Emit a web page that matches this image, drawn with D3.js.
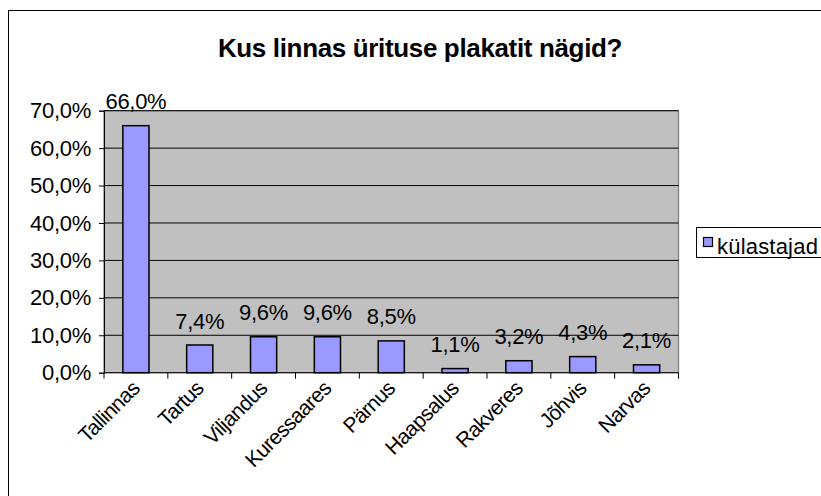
<!DOCTYPE html>
<html>
<head>
<meta charset="utf-8">
<script src="https://cdn.jsdelivr.net/npm/d3@7/dist/d3.min.js"></script>
<style>
html,body{margin:0;padding:0;background:#fff;}
svg{display:block;}
text{font-family:Arial,"Liberation Sans",sans-serif;}
</style>
</head>
<body>
<svg id="chart" width="821" height="496"></svg>
<script>
const categories = ["Tallinnas","Tartus","Viljandus","Kuressaares","Pärnus","Haapsalus","Rakveres","Jõhvis","Narvas"];
const values = [66.0, 7.4, 9.6, 9.6, 8.5, 1.1, 3.2, 4.3, 2.1];
const yTicks = [0,10,20,30,40,50,60,70];
const seriesName = "külastajad";
const title = "Kus linnas ürituse plakatit nägid?";

const svg = d3.select("#chart");
const fmt = v => v.toFixed(1).replace(".", ",") + "%";
const FF = "Arial, 'Liberation Sans', sans-serif";

// outer chart border
svg.append("rect").attr("x",8.5).attr("y",10.5).attr("width",840).attr("height",500)
  .attr("fill","#fff").attr("stroke","#000").attr("stroke-width",1);

const plot = {left:104, top:110.7, right:678.5, bottom:372.7};

const x = d3.scaleBand().domain(categories).range([plot.left, plot.right]).paddingInner(0.59).paddingOuter(0.295);
const xStep = d3.scaleBand().domain(categories).range([plot.left, plot.right]);
const y = d3.scaleLinear().domain([0,70]).range([plot.bottom, plot.top]);

// plot area
svg.append("rect").attr("x",plot.left).attr("y",plot.top)
  .attr("width",plot.right-plot.left).attr("height",plot.bottom-plot.top)
  .attr("fill","#C0C0C0").attr("stroke","#808080").attr("stroke-width",1.3);

// gridlines
svg.append("g").selectAll("line").data(yTicks.filter(t=>t>0)).join("line")
  .attr("x1",plot.left).attr("x2",plot.right)
  .attr("y1",d=>y(d)).attr("y2",d=>y(d))
  .attr("stroke","#000").attr("stroke-width",1);

// y axis
const yAxis = svg.append("g").attr("transform",`translate(${plot.left},0)`)
  .call(d3.axisLeft(y).tickValues(yTicks).tickFormat(fmt).tickSize(5).tickPadding(8));
yAxis.attr("font-size",null).attr("font-family",null);
yAxis.select(".domain").attr("stroke","#000");
yAxis.selectAll("line").attr("stroke","#000");
yAxis.selectAll("text").style("font-size","22px").attr("fill","#000").style("font-family",FF).attr("letter-spacing","-0.3");

// bars
svg.append("g").selectAll("rect").data(values).join("rect")
  .attr("x",(d,i)=>x(categories[i]))
  .attr("y",d=>y(d))
  .attr("width",x.bandwidth())
  .attr("height",d=>plot.bottom-y(d))
  .attr("fill","#9999FF").attr("stroke","#000").attr("stroke-width",1.5);

// x axis
const xAxisG = svg.append("g").attr("transform",`translate(0,${plot.bottom})`);
xAxisG.append("line").attr("x1",plot.left).attr("x2",plot.right).attr("y1",0).attr("y2",0).attr("stroke","#000");
const edges = categories.map(c=>xStep(c)).concat([plot.right]);
xAxisG.selectAll("line.tk").data(edges).join("line").attr("class","tk")
  .attr("x1",d=>d).attr("x2",d=>d).attr("y1",0).attr("y2",6).attr("stroke","#000");
xAxisG.selectAll("text").data(categories).join("text")
  .attr("transform",c=>`translate(${x(c)+x.bandwidth()/2+5},17) rotate(-45)`)
  .attr("text-anchor","end").style("font-size","21px").attr("letter-spacing","-0.6")
  .attr("fill","#000").text(c=>c);

// data labels
svg.append("g").selectAll("text").data(values).join("text")
  .attr("x",(d,i)=>x(categories[i])+x.bandwidth()/2)
  .attr("y",d=>y(d)-16.5)
  .attr("text-anchor","middle").style("font-size","22px").attr("letter-spacing","-0.3")
  .attr("fill","#000").text(d=>fmt(d));

// title
svg.append("text").attr("x",420).attr("y",57).attr("text-anchor","middle")
  .style("font-size","26px").attr("font-weight","bold").attr("letter-spacing","-0.35").attr("fill","#000").text(title);

// legend
svg.append("rect").attr("x",696.5).attr("y",227.5).attr("width",140).attr("height",30)
  .attr("fill","#fff").attr("stroke","#000");
svg.append("rect").attr("x",703.5).attr("y",237.5).attr("width",9).attr("height",9)
  .attr("fill","#9999FF").attr("stroke","#000").attr("stroke-width",1.2);
svg.append("text").attr("x",717).attr("y",254).style("font-size","22px").attr("letter-spacing","0.2")
  .attr("fill","#000").text(seriesName);
</script>
</body>
</html>
